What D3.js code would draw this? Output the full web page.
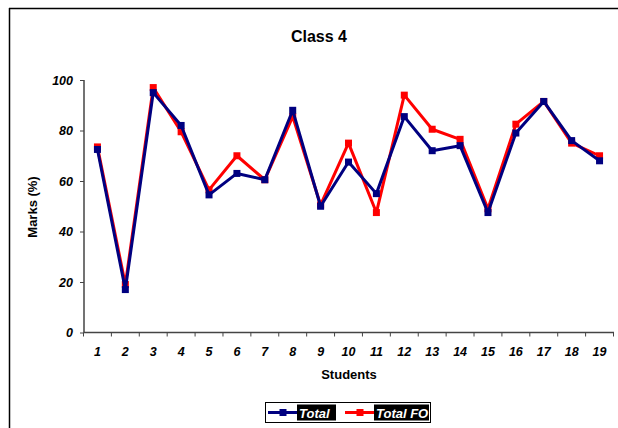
<!DOCTYPE html>
<html><head><meta charset="utf-8">
<script src="https://cdn.jsdelivr.net/npm/d3@7"></script>
<style>body{margin:0;background:#fff}svg{display:block}</style>
</head><body><svg id="c" width="618" height="428"></svg>
<script>
const students = ["1","2","3","4","5","6","7","8","9","10","11","12","13","14","15","16","17","18","19"];
const total   = [72.5,17,95,82,54.5,63,60.5,88,50,67.5,55,85.5,72,74,47.5,79,91.5,76,68];
const totalFO = [73.5,19,97,79.5,56.5,70,60.5,85.5,50.5,75,47.5,94,80.5,76.5,49,82.5,91.5,75,70];
const yTicks  = [0,20,40,60,80,100];
const seriesNames = ["Total","Total FO"];
const seriesColors = ["#000080","#ff0000"];

const svg = d3.select("#c");
const ax = "#444";
const ff = "Liberation Sans, Arial, sans-serif";

// outer frame (top and left)
svg.append("line").attr("x1",9).attr("x2",618).attr("y1",8.5).attr("y2",8.5).attr("stroke","#000").attr("stroke-width",1.5);
svg.append("line").attr("x1",9.5).attr("x2",9.5).attr("y1",8).attr("y2",428).attr("stroke","#000").attr("stroke-width",1.5);

const x = d3.scaleBand().domain(students).range([83.5,613.5]);
const y = d3.scaleLinear().domain([0,100]).range([332.5,80]);

// title
svg.append("text").attr("x",319).attr("y",42).attr("text-anchor","middle")
  .attr("font-family",ff).attr("font-weight","bold").attr("font-size",16).text("Class 4");

// y axis
const yA = svg.append("g").attr("transform","translate(84,0)")
  .call(d3.axisLeft(y).tickValues(yTicks).tickSize(4).tickPadding(7).tickFormat(d3.format("d")));
yA.select(".domain").attr("stroke",ax).attr("stroke-width",1.5).attr("d","M0,80V332.5");
yA.selectAll(".tick line").attr("stroke",ax);
yA.selectAll("text").attr("font-family",ff).attr("font-weight","bold")
  .attr("font-style","italic").attr("font-size",12.5).attr("fill","#000");

// x axis
const xA = svg.append("g").attr("transform","translate(0,332.5)")
  .call(d3.axisBottom(x).tickSize(0).tickPadding(15));
xA.select(".domain").attr("stroke",ax).attr("stroke-width",1.5).attr("d","M83.5,0H614");
xA.selectAll("text").attr("font-family",ff).attr("font-weight","bold")
  .attr("font-style","italic").attr("font-size",12.5).attr("fill","#000");
xA.selectAll("line.bt").data(students).enter().append("line").attr("class","bt")
  .attr("x1",d=>x(d)).attr("x2",d=>x(d)).attr("y1",0).attr("y2",4).attr("stroke",ax);
xA.append("line").attr("x1",x.range()[1]).attr("x2",x.range()[1]).attr("y1",0).attr("y2",4).attr("stroke",ax);

// axis titles
svg.append("text").attr("transform","translate(37,207) rotate(-90)").attr("text-anchor","middle")
  .attr("font-family",ff).attr("font-weight","bold").attr("font-size",13).text("Marks (%)");
svg.append("text").attr("x",349).attr("y",379).attr("text-anchor","middle")
  .attr("font-family",ff).attr("font-weight","bold").attr("font-size",13).text("Students");

// series
const cx = d => x(d) + x.bandwidth()/2;
const line = d3.line().x((d,i)=>cx(students[i])).y(d=>y(d));
const data = [totalFO, total];
const cols = [seriesColors[1], seriesColors[0]];
data.forEach((s,k)=>{
  svg.append("path").datum(s).attr("d",line).attr("fill","none").attr("stroke",cols[k]).attr("stroke-width",3).attr("stroke-linejoin","round");
  svg.selectAll(null).data(s).enter().append("rect")
    .attr("x",(d,i)=>cx(students[i])-3.5).attr("y",d=>y(d)-3.5).attr("width",7).attr("height",7).attr("fill",cols[k]);
});

// legend
const lg = svg.append("g");
lg.append("rect").attr("x",265.5).attr("y",402.5).attr("width",165).attr("height",20).attr("fill","#fff").attr("stroke","#000").attr("stroke-width",1);
const items = [{n:seriesNames[0],c:seriesColors[0],x0:268,w:39},{n:seriesNames[1],c:seriesColors[1],x0:345,w:55}];
items.forEach(it=>{
  lg.append("line").attr("x1",it.x0).attr("x2",it.x0+29).attr("y1",412.5).attr("y2",412.5).attr("stroke",it.c).attr("stroke-width",3);
  lg.append("rect").attr("x",it.x0+11.5).attr("y",409).attr("width",7).attr("height",7).attr("fill",it.c);
  lg.append("rect").attr("x",it.x0+29).attr("y",404.5).attr("width",it.w).attr("height",16).attr("fill","#000");
  lg.append("text").attr("x",it.x0+31).attr("y",417.5).attr("fill","#fff")
    .attr("font-family",ff).attr("font-weight","bold").attr("font-style","italic").attr("font-size",13).text(it.n);
});
</script></body></html>
